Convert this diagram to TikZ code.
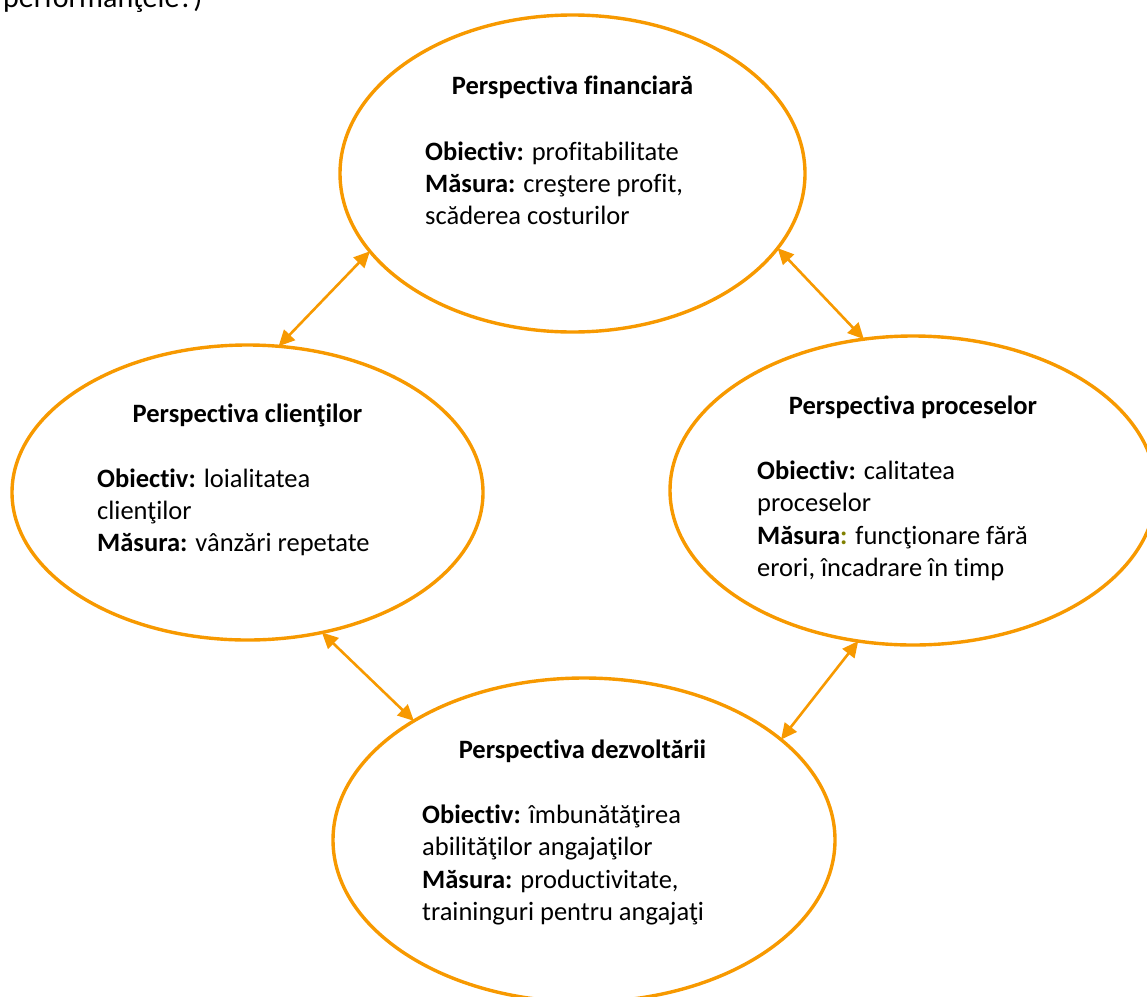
\documentclass[tikz,border=0pt]{standalone}
\usepackage{fontspec}
\setmainfont{Carlito}[Ligatures=CommonOff]
\usetikzlibrary{shapes.geometric,arrows.meta}
\definecolor{bscOrange}{RGB}{247,153,0}
\definecolor{bscOlive}{RGB}{128,128,0}
\newcommand{\bscKey}[1]{\textbf{#1}}

\begin{document}
\begin{tikzpicture}[x=1pt,y=-1pt,
  bscOval/.style={ellipse, draw=bscOrange, line width=3.4pt, inner sep=0pt, outer sep=0pt},
  bscLink/.style={draw=bscOrange, line width=2.6pt, {Triangle[length=16pt,width=15pt]}-{Triangle[length=16pt,width=15pt]}},
  bscTxt/.style={anchor=base west, inner sep=0pt, font=\fontsize{26.5}{32}\selectfont},
  bscHead/.style={anchor=base, inner sep=0pt, font=\fontsize{26.5}{32}\selectfont\bfseries}]
\useasboundingbox (0,0) rectangle (1147,996);
\clip (0,0) rectangle (1147,996);
\node[anchor=base west, inner sep=0pt, font=\fontsize{30}{36}\selectfont] (pTop) at (3,7) {performanţele?)};
% ellipses
\node[bscOval, minimum width=465, minimum height=317] (fin) at (572.5,173.5) {};
\node[bscOval, minimum width=471, minimum height=295] (cli) at (247.5,492.5) {};
\node[bscOval, minimum width=486, minimum height=309] (pro) at (913,490.5) {};
\node[bscOval, minimum width=502, minimum height=324] (dez) at (584,840) {};
% financiara
\node[bscHead] (finT) at (572.5,94) {Perspectiva financiară};
\node[bscTxt] (finA) at (425,160) {\bscKey{Obiectiv:} profitabilitate};
\node[bscTxt] (finB) at (425,192) {\bscKey{Măsura:} creştere profit,};
\node[bscTxt] (finC) at (425,224) {scăderea costurilor};
% clienti
\node[bscHead] (cliT) at (247.5,422) {Perspectiva clienţilor};
\node[bscTxt] (cliA) at (97,487) {\bscKey{Obiectiv:} loialitatea};
\node[bscTxt] (cliB) at (97,519) {clienţilor};
\node[bscTxt] (cliC) at (97,551) {\bscKey{Măsura:} vânzări repetate};
% procese
\node[bscHead] (proT) at (913,414) {Perspectiva proceselor};
\node[bscTxt] (proA) at (757,479) {\bscKey{Obiectiv:} calitatea};
\node[bscTxt] (proB) at (757,511.5) {proceselor};
\node[bscTxt] (proC) at (757,544) {\bscKey{Măsura}\textcolor{bscOlive}{\bfseries :} funcţionare fără};
\node[bscTxt] (proD) at (757,576.5) {erori, încadrare în timp};
% dezvoltare
\node[bscHead] (dezT) at (582.5,758) {Perspectiva dezvoltării};
\node[bscTxt] (dezA) at (422,823) {\bscKey{Obiectiv:} îmbunătăţirea};
\node[bscTxt] (dezB) at (422,855.5) {abilităţilor angajaţilor};
\node[bscTxt] (dezC) at (422,888) {\bscKey{Măsura:} productivitate,};
\node[bscTxt] (dezD) at (422,920.5) {traininguri pentru angajaţi};
% links
\draw[bscLink] (fin.201) -- (cli.78);
\draw[bscLink] (fin.340) -- (pro.108);
\draw[bscLink] (cli.298) -- (dez.145);
\draw[bscLink] (pro.250) -- (dez.27);
\end{tikzpicture}
\end{document}
